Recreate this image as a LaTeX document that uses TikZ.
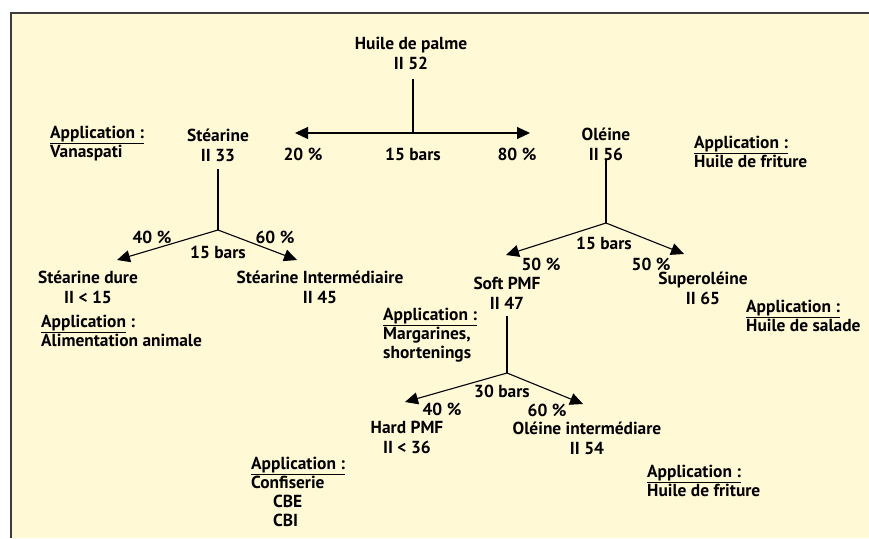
\documentclass[tikz,border=0pt]{standalone}
\usepackage{fontspec}
\setmainfont{PT Sans}
\usetikzlibrary{arrows.meta, positioning}
\definecolor{paperbg}{RGB}{255,249,214}
\definecolor{framegray}{RGB}{60,60,60}
\tikzset{
  % Fraction (product) label
  product/.style={align=center, inner sep=0pt, outer sep=0pt,
    font=\fontsize{17.4}{20}\selectfont\bfseries},
  % Application note, left aligned
  appnote/.style={align=left, inner sep=0pt, anchor=north west,
    font=\fontsize{17.4}{19}\selectfont\bfseries},
  cutlabel/.style={inner sep=0pt, font=\fontsize{17.4}{18}\selectfont\bfseries},
  stem/.style={line width=1.1pt},
  split/.style={-{Triangle[length=13pt, width=12pt]}, line width=1.1pt}
}
\begin{document}
\begin{tikzpicture}[x=1pt, y=-1pt]
  \useasboundingbox (0,0) rectangle (869,538);
  \fill[paperbg] (11,13) rectangle (869,538);
  \draw[framegray, line width=1.8pt] (869,13) -- (11,13) -- (11,538);

  % Nodes
  \node[product] (palme) at (411,53) {Huile de palme\\II 52};
  \node[product] (stearine) at (218,145) {Stéarine\\II 33};
  \node[product] (oleine) at (606,144) {Oléine\\II 56};
  \node[product] (dure) at (88,287) {Stéarine dure\\II < 15};
  \node[product] (stinter) at (320,287) {Stéarine Intermédiaire\\II 45};
  \node[product] (softpmf) at (507,293) {Soft PMF\\II 47};
  \node[product] (superol) at (703,288) {Superoléine\\II 65};
  \node[product] (hardpmf) at (407,437) {Hard PMF\\II < 36};
  \node[product] (olinter) at (587,438) {Oléine intermédiare\\II 54};

  % Applications
  \node[appnote] (appvana) at (50,126) {\underline{Application :}\\Vanaspati};
  \node[appnote] (appfrit) at (694,136) {\underline{Application :}\\Huile de friture};
  \node[appnote] (appanim) at (41,315) {\underline{Application} :\\Alimentation animale};
  \node[appnote] (appmarg) at (383,308) {\underline{Application :}\\Margarines,\\shortenings};
  \node[appnote] (appsalad) at (746,300) {\underline{Application :}\\Huile de salade};
  \node[appnote] (appconf) at (251,457) {\underline{Application :}\\Confiserie\\\hspace{22pt}CBE\\\hspace{22pt}CBI};
  \node[appnote] (appfrit2) at (647,465) {\underline{Application :}\\Huile de friture};

  % Junctions and arrow ends
  \coordinate (jpalme) at (413,133);
  \coordinate (jstearine) at (218,230);
  \coordinate (joleine) at (606,223);
  \coordinate (jsoft) at (507,373);

  \coordinate (tstearine) at (295,133);
  \coordinate (toleine) at (530,133);
  \coordinate (tdure) at (117,260);
  \coordinate (tstinter) at (297,260);
  \coordinate (tsoft) at (506,255);
  \coordinate (tsuper) at (684,254);
  \coordinate (thard) at (405,402);
  \coordinate (tolinter) at (583,404);

  % Arrows
  \draw[stem, shorten <=10pt] (palme.south -| jpalme) -- (jpalme);
  \draw[split] (jpalme) -- (tstearine);
  \draw[split] (jpalme) -- (toleine);
  \draw[stem, shorten <=8pt] (stearine) -- (jstearine);
  \draw[split] (jstearine) -- (tdure);
  \draw[split] (jstearine) -- (tstinter);
  \draw[stem] (oleine) -- (joleine);
  \draw[split] (joleine) -- (tsoft);
  \draw[split] (joleine) -- (tsuper);
  \draw[stem, shorten <=7pt] (softpmf) -- (jsoft);
  \draw[split] (jsoft) -- (thard);
  \draw[split] (jsoft) -- (tolinter);

  % Cut labels
  \node[cutlabel] (p20) at (303,154) {20 \%};
  \node[cutlabel] (b15a) at (413,154) {15 bars};
  \node[cutlabel] (p80) at (517,154) {80 \%};
  \node[cutlabel] (p40a) at (152,237) {40 \%};
  \node[cutlabel] (b15b) at (218,252) {15 bars};
  \node[cutlabel] (p60a) at (275,237) {60 \%};
  \node[cutlabel] (b15c) at (604,243) {15 bars};
  \node[cutlabel] (p50a) at (541,264) {50 \%};
  \node[cutlabel] (p50b) at (651,264) {50 \%};
  \node[cutlabel] (b30) at (502,391) {30 bars};
  \node[cutlabel] (p40b) at (442,409) {40 \%};
  \node[cutlabel] (p60b) at (547,410) {60 \%};
\end{tikzpicture}
\end{document}
